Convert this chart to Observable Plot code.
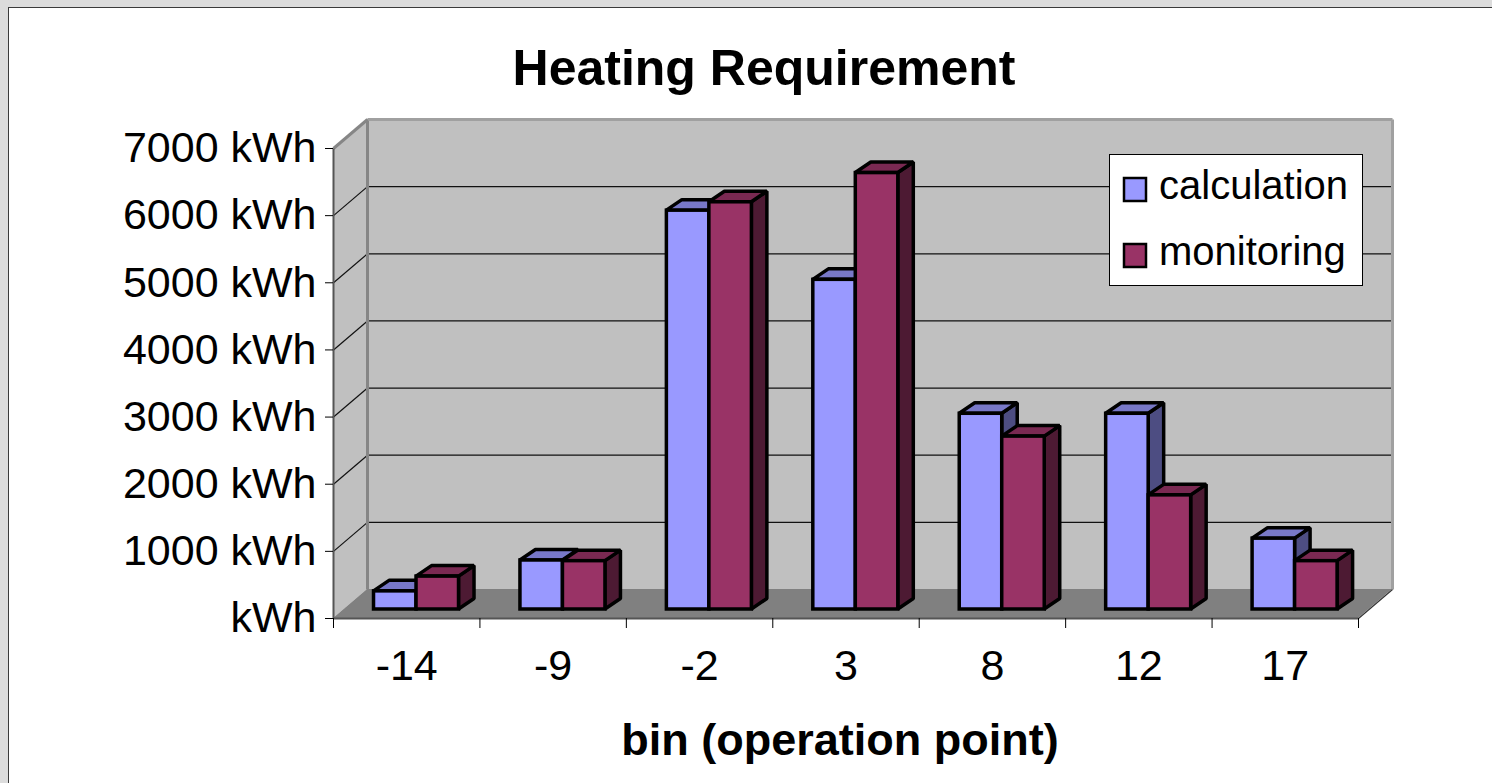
<!DOCTYPE html>
<html>
<head>
<meta charset="utf-8">
<script src="https://cdn.jsdelivr.net/npm/d3@7"></script>
<script src="https://cdn.jsdelivr.net/npm/@observablehq/plot@0.6"></script>
<style>
  html, body { margin: 0; padding: 0; }
  body { background: #dcdcdc; width: 1492px; height: 783px; overflow: hidden; position: relative; font-family: "Liberation Sans", Arial, sans-serif; }
  #panel { position: absolute; left: 8px; top: 7px; width: 1520px; height: 820px; background: #ffffff; border: 1.5px solid #3a3a3a; box-sizing: border-box; }
  #chart { position: absolute; left: 0; top: 0; }
</style>
</head>
<body>
<div id="panel"></div>
<div id="chart"></div>
<script>
// ---- data ----
const categories = ["-14", "-9", "-2", "3", "8", "12", "17"];
const calculation = [270, 730, 5940, 4910, 2915, 2915, 1055];
const monitoring = [490, 720, 6065, 6500, 2575, 1700, 720];
const seriesNames = ["calculation", "monitoring"];
const yTicks = [0, 1000, 2000, 3000, 4000, 5000, 6000, 7000];

// ---- style / geometry (in scale units) ----
const frontColors = ["#9999ff", "#993366"];
const topColors = ["#7878c8", "#7a2952"];
const sideColors = ["#4d4d82", "#4d1a33"];
const N = categories.length;
const YMAX = 7000;
const PX_X = 1025 / 7;        // px per category unit
const PX_Y = 470 / 7000;      // px per kWh
const WDX = 34 / PX_X, WDY = 29 / PX_Y;      // wall depth
const OX = 10.5 / PX_X, OY = 9 / PX_Y;       // bar front-face depth
const BDX = 15.5 / PX_X, BDY = 10.5 / PX_Y;  // bar depth
const BW = 42.5 / PX_X;                       // bar width
const GAP = 0.205;

const bars = [];
categories.forEach((c, i) => {
  [calculation[i], monitoring[i]].forEach((v, s) => {
    const x0 = i + GAP + s * BW + OX, x1 = x0 + BW;
    bars.push({ id: i + "-" + s, s, x0, x1, yb: OY, yt: OY + v });
  });
});
const frontFaces = bars.map(b => ({ x1: b.x0, x2: b.x1, y1: b.yb, y2: b.yt, fill: frontColors[b.s] }));
const topPts = bars.flatMap(b => [
  { id: b.id, y: b.yt, x1: b.x0, x2: b.x1, fill: topColors[b.s] },
  { id: b.id, y: b.yt + BDY, x1: b.x0 + BDX, x2: b.x1 + BDX, fill: topColors[b.s] }
]);
const sidePts = bars.flatMap(b => [
  { id: b.id, x: b.x1, y1: b.yb, y2: b.yt, fill: sideColors[b.s] },
  { id: b.id, x: b.x1 + BDX, y1: b.yb + BDY, y2: b.yt + BDY, fill: sideColors[b.s] }
]);

const inner = yTicks.filter(d => d > 0 && d < YMAX);
const SW = 3.5;

const plot = Plot.plot({
  width: 1492,
  height: 783,
  marginLeft: 333,
  marginRight: 134,
  marginTop: 148,
  marginBottom: 165,
  x: { type: "linear", domain: [0, N] },
  y: { type: "linear", domain: [0, YMAX] },
  color: { type: "identity" },
  style: { background: "none", color: "#000", fontFamily: "'Liberation Sans', Arial, sans-serif", fontSize: "43px", overflow: "visible" },
  marks: [
    // back wall
    Plot.rect([0], { x1: () => WDX, x2: () => N + WDX, y1: () => WDY, y2: () => YMAX + WDY, fill: "#c0c0c0" }),
    // left wall
    Plot.areaY([{ x: 0, y1: 0, y2: YMAX }, { x: WDX, y1: WDY, y2: YMAX + WDY }], { x: "x", y1: "y1", y2: "y2", fill: "#c0c0c0" }),
    // gridlines on back wall and left wall
    Plot.ruleY(inner, { y: d => d + WDY, x1: () => WDX, x2: () => N + WDX, stroke: "#111", strokeWidth: 1.2 }),
    Plot.link(inner, { x1: () => 0, y1: d => d, x2: () => WDX, y2: d => d + WDY, stroke: "#111", strokeWidth: 1.2 }),
    // floor
    Plot.areaX([{ y: 0, x1: 0, x2: N }, { y: WDY, x1: WDX, x2: N + WDX }], { y: "y", x1: "x1", x2: "x2", fill: "#808080" }),
    // wall edges
    Plot.link([0], { x1: () => WDX, y1: () => WDY, x2: () => WDX, y2: () => YMAX + WDY, stroke: "#868686", strokeWidth: 3 }),
    Plot.link([0], { x1: () => WDX, y1: () => YMAX + WDY, x2: () => N + WDX, y2: () => YMAX + WDY, stroke: "#a0a0a0", strokeWidth: 3 }),
    Plot.link([0], { x1: () => N + WDX, y1: () => WDY, x2: () => N + WDX, y2: () => YMAX + WDY, stroke: "#a0a0a0", strokeWidth: 3 }),
    Plot.link([0], { x1: () => 0, y1: () => YMAX, x2: () => WDX, y2: () => YMAX + WDY, stroke: "#868686", strokeWidth: 3 }),
    Plot.link([0], { x1: () => 0, y1: () => 0, x2: () => 0, y2: () => YMAX, stroke: "#555", strokeWidth: 2 }),
    Plot.link([0], { x1: () => 0, y1: () => 0, x2: () => N, y2: () => 0, stroke: "#555", strokeWidth: 2 }),
    Plot.link([0], { x1: () => N, y1: () => 0, x2: () => N + WDX, y2: () => WDY, stroke: "#333", strokeWidth: 1.2 }),
    // axes
    Plot.axisY(yTicks, { tickSize: 8, tickPadding: 9, fontSize: 43, stroke: "#000", label: null,
      tickFormat: d => d === 0 ? "kWh" : d + " kWh" }),
    Plot.axisX(d3.range(N + 1), { tickSize: 10, stroke: "#000", label: null, tickFormat: () => "" }),
    Plot.axisX(d3.range(N).map(i => i + 0.5), { tickSize: 0, tickPadding: 31, fontSize: 43, label: null,
      tickFormat: d => categories[Math.floor(d)] }),
    // bars
    Plot.areaY(sidePts, { x: "x", y1: "y1", y2: "y2", z: "id", fill: "fill", stroke: "#000", strokeWidth: SW, strokeLinejoin: "miter" }),
    Plot.areaX(topPts, { y: "y", x1: "x1", x2: "x2", z: "id", fill: "fill", stroke: "#000", strokeWidth: SW, strokeLinejoin: "miter" }),
    Plot.rect(frontFaces, { x1: "x1", x2: "x2", y1: "y1", y2: "y2", fill: "fill", stroke: "#000", strokeWidth: SW })
  ]
});

// title, axis title, legend
const svg = d3.select(plot);
svg.append("text").attr("x", 764).attr("y", 85).attr("text-anchor", "middle")
  .attr("font-size", 50).attr("font-weight", "bold").attr("fill", "#000").text("Heating Requirement");
svg.append("text").attr("x", 840).attr("y", 755).attr("text-anchor", "middle")
  .attr("font-size", 45).attr("font-weight", "bold").attr("fill", "#000").text("bin (operation point)");
const lg = svg.append("g").attr("text-anchor", "start");
lg.append("rect").attr("x", 1109.5).attr("y", 154.5).attr("width", 253).attr("height", 131)
  .attr("fill", "#fff").attr("stroke", "#000").attr("stroke-width", 1);
seriesNames.forEach((name, s) => {
  const y0 = 178 + s * 66;
  lg.append("rect").attr("x", 1124).attr("y", y0).attr("width", 22).attr("height", 23)
    .attr("fill", frontColors[s]).attr("stroke", "#000").attr("stroke-width", 2.5);
  lg.append("text").attr("x", 1159).attr("y", y0 + 21).attr("text-anchor", "start")
    .attr("font-size", 40).attr("fill", "#000").text(name);
});

document.getElementById("chart").appendChild(plot);
</script>
</body>
</html>
